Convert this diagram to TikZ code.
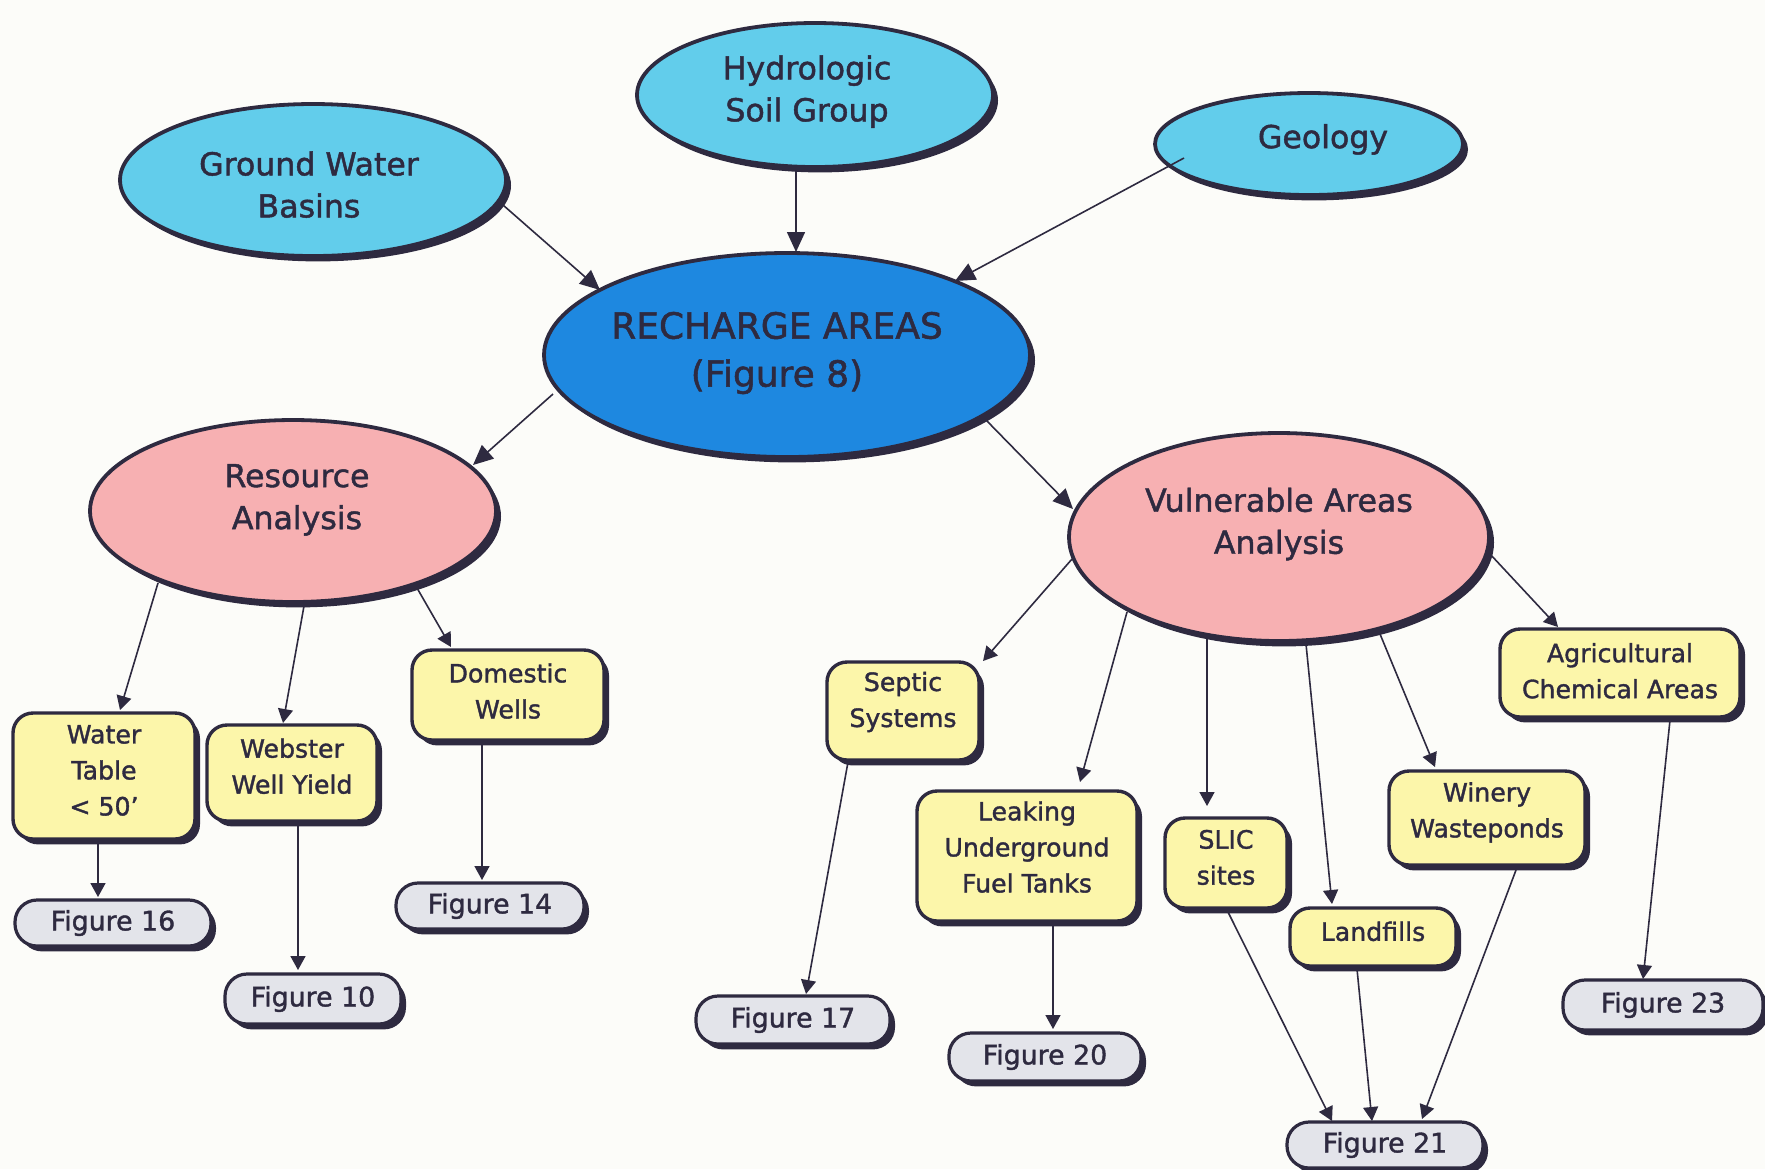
\documentclass[tikz,border=0pt]{standalone}
\usepackage{fontspec}
\setmainfont{DejaVu Sans}[FakeBold=1.4]
\usetikzlibrary{shapes.geometric,shadows,calc,arrows.meta}
\definecolor{ink}{HTML}{2E2A40}
\definecolor{cyanfill}{HTML}{62CDEB}
\definecolor{bluefill}{HTML}{1E88E0}
\definecolor{pinkfill}{HTML}{F7B0B2}
\definecolor{yelfill}{HTML}{FCF6AA}
\definecolor{grayfill}{HTML}{E3E4EA}
\definecolor{paper}{HTML}{FCFCF9}
\tikzset{
  base/.style={draw=ink, line width=1.9pt, text=ink, align=center, inner sep=0pt,
    drop shadow={shadow xshift=2.5pt, shadow yshift=-2.7pt, fill=ink, opacity=1}},
  txt/.style={text=ink, align=center, inner sep=0pt},
  elltxt/.style={txt, font=\fontsize{15.8}{21}\selectfont},
  maintxt/.style={txt, font=\fontsize{18}{24}\selectfont},
  ytxt/.style={txt, font=\fontsize{12.6}{18}\selectfont},
  ell/.style={base, ellipse},
  topell/.style={ell, fill=cyanfill},
  mainell/.style={ell, fill=bluefill},
  midell/.style={ell, fill=pinkfill},
  ybox/.style={base, line width=1.7pt, rounded corners=10pt, fill=yelfill},
  gbox/.style={base, line width=1.6pt, rounded corners=11pt, fill=grayfill, font=\fontsize{13.4}{16}\selectfont},
  arr/.style={draw=ink, line width=0.8pt, -{Triangle[length=7pt,width=7.5pt]}},
  bigarr/.style={draw=ink, line width=0.8pt, -{Triangle[length=10pt,width=9pt]}}
}
\begin{document}
\begin{tikzpicture}[x=0.5pt,y=-0.5pt]
\fill[paper] (0,0) rectangle (1765,1169);
\useasboundingbox (0,0) rectangle (1765,1169);

% ellipses
\node[topell, minimum width=193pt, minimum height=76pt,
  label={[elltxt, xshift=-2pt, yshift=-2.3pt]center:{Ground Water\\Basins}}] (gwb) at (313,180) {};
\node[topell, minimum width=178pt, minimum height=72pt,
  label={[elltxt, xshift=-4pt, yshift=1.7pt]center:{Hydrologic\\Soil Group}}] (hsg) at (815,95) {};
\node[topell, minimum width=154pt, minimum height=51pt,
  label={[elltxt, xshift=7pt, yshift=2.3pt]center:{Geology}}] (geo) at (1309,144) {};
\node[mainell, minimum width=243pt, minimum height=102pt,
  label={[maintxt, xshift=-5pt, yshift=1pt]center:{RECHARGE AREAS\\(Figure 8)}}] (rech) at (787,355) {};
\node[midell, minimum width=203pt, minimum height=91pt,
  label={[elltxt, xshift=2pt, yshift=5.6pt]center:{Resource\\Analysis}}] (res) at (293,511) {};
\node[midell, minimum width=210pt, minimum height=104pt,
  label={[elltxt, yshift=6.5pt]center:{Vulnerable Areas\\Analysis}}] (vul) at (1279,537) {};

% yellow boxes
\node[ybox, minimum width=91pt, minimum height=63pt,
  label={[ytxt, yshift=2.8pt]center:{Water\\Table\\< 50'}}] (wt) at (104,776) {};
\node[ybox, minimum width=85pt, minimum height=48pt,
  label={[ytxt, yshift=3.4pt]center:{Webster\\Well Yield}}] (web) at (292,773) {};
\node[ybox, minimum width=96pt, minimum height=45pt,
  label={[ytxt, yshift=2pt]center:{Domestic\\Wells}}] (dom) at (508,695) {};
\node[ybox, minimum width=76pt, minimum height=49pt,
  label={[ytxt, yshift=4.5pt]center:{Septic\\Systems}}] (sep) at (903,711) {};
\node[ybox, minimum width=110pt, minimum height=65pt,
  label={[ytxt, yshift=4.5pt]center:{Leaking\\Underground\\Fuel Tanks}}] (luft) at (1027,856) {};
\node[ybox, minimum width=61pt, minimum height=45pt,
  label={[ytxt, yshift=2.8pt]center:{SLIC\\sites}}] (slic) at (1226,863) {};
\node[ybox, minimum width=83pt, minimum height=29pt,
  label={[ytxt, yshift=2.8pt]center:{Landfills}}] (land) at (1373,937) {};
\node[ybox, minimum width=98pt, minimum height=47pt,
  label={[ytxt, yshift=2.8pt]center:{Winery\\Wasteponds}}] (win) at (1487,818) {};
\node[ybox, minimum width=120pt, minimum height=44pt,
  label={[ytxt, yshift=1.1pt]center:{Agricultural\\Chemical Areas}}] (agr) at (1620,673) {};

% figure boxes
\node[gbox, minimum width=98pt, minimum height=23pt] (f16) at (113,923) {Figure 16};
\node[gbox, minimum width=88pt, minimum height=25pt] (f10) at (313,999) {Figure 10};
\node[gbox, minimum width=94pt, minimum height=23pt] (f14) at (490,906) {Figure 14};
\node[gbox, minimum width=97pt, minimum height=24pt] (f17) at (793,1020) {Figure 17};
\node[gbox, minimum width=96pt, minimum height=24pt] (f20) at (1045,1057) {Figure 20};
\node[gbox, minimum width=98pt, minimum height=23pt] (f21) at (1385,1145) {Figure 21};
\node[gbox, minimum width=100pt, minimum height=25pt] (f23) at (1663,1005) {Figure 23};

% connectors
\draw[bigarr] ($(gwb)+(190,25)$) -- ($(rech)+(-187,-65)$);
\draw[bigarr] ($(hsg)+(-19,72)$) -- ($(rech)+(9,-103)$);
\draw[bigarr] ($(geo)+(-125,14)$) -- ($(rech)+(168,-74)$);
\draw[bigarr] ($(rech)+(-234,39)$) -- ($(res)+(180,-46)$);
\draw[bigarr] ($(rech)+(199,65)$) -- ($(vul)+(-206,-28)$);

\draw[arr] ($(res)+(-135,72)$) -- ($(wt)+(16,-66)$);
\draw[arr] ($(res)+(11,95)$) -- ($(web)+(-9,-50)$);
\draw[arr] ($(res)+(124,77)$) -- ($(dom)+(-57,-48)$);
\draw[arr] ($(wt)+(-6,66)$) -- ($(f16)+(-15,-26)$);
\draw[arr] ($(web)+(6,49)$) -- ($(f10)+(-15,-29)$);
\draw[arr] ($(dom)+(-26,46)$) -- ($(f14)+(-8,-26)$);

\draw[arr] ($(vul)+(-207,22)$) -- ($(sep)+(80,-50)$);
\draw[arr] ($(vul)+(-152,75)$) -- ($(luft)+(53,-74)$);
\draw[arr] ($(vul)+(-72,100)$) -- ($(slic)+(-19,-57)$);
\draw[arr] ($(vul)+(27,107)$) -- ($(land)+(-41,-33)$);
\draw[arr] ($(vul)+(101,97)$) -- ($(win)+(-52,-51)$);
\draw[arr] ($(vul)+(211,17)$) -- ($(agr)+(-62,-46)$);

\draw[arr] ($(sep)+(-55,51)$) -- ($(f17)+(13,-26)$);
\draw[arr] ($(luft)+(26,67)$) -- ($(f20)+(8,-28)$);
\draw[arr] ($(slic)+(2,49)$) -- ($(f21)+(-53,-24)$);
\draw[arr] ($(land)+(-16,32)$) -- ($(f21)+(-13,-24)$);
\draw[arr] ($(win)+(29,52)$) -- ($(f21)+(37,-26)$);
\draw[arr] ($(agr)+(50,47)$) -- ($(f23)+(-20,-26)$);
\end{tikzpicture}
\end{document}
